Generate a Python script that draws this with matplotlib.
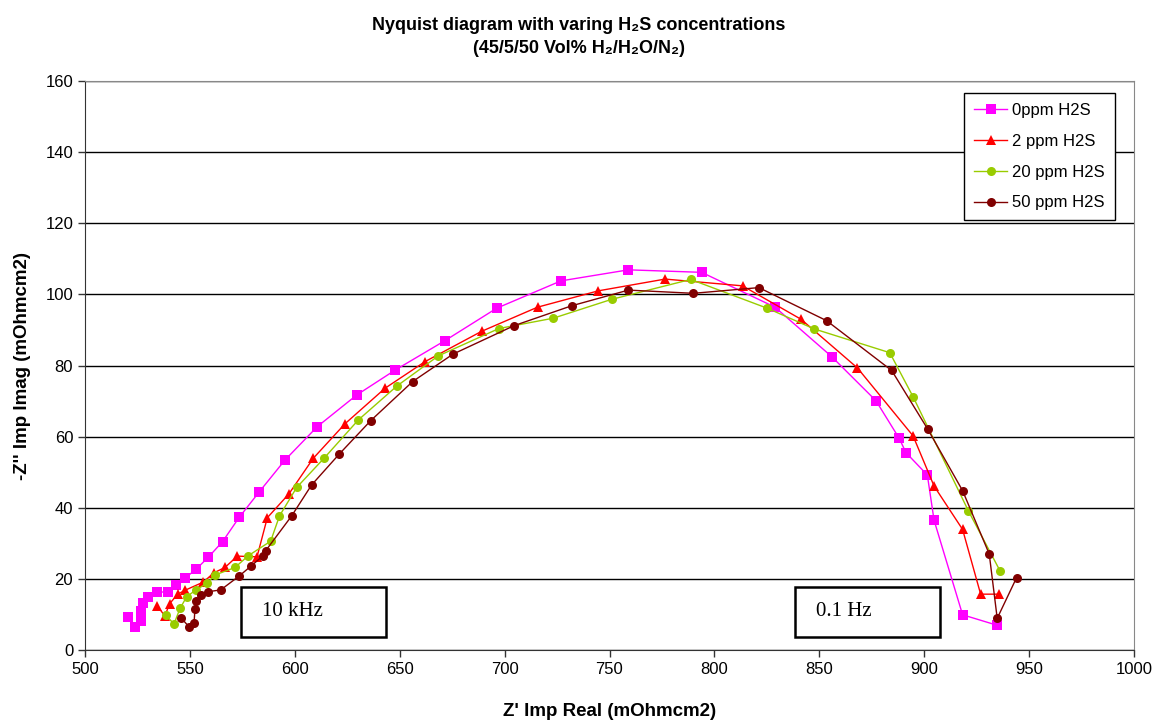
import numpy as np
import matplotlib
matplotlib.use('Agg')
import matplotlib.pyplot as plt

x_0ppm = [520.6, 523.8, 526.5, 526.5, 527.8, 530.2, 534.5, 539.7, 543.4, 547.7,
          552.9, 558.8, 565.6, 573.5, 583.1, 595.3, 610.7, 629.5, 647.8, 671.6,
          696.2, 726.9, 759.0, 793.9, 828.9, 855.9, 877.0, 888.1, 891.3, 901.5,
          904.7, 918.3, 934.5]
y_0ppm = [9.2, 6.6, 8.2, 11.1, 13.1, 15.0, 16.4, 16.2, 18.2, 20.2,
          22.7, 26.1, 30.5, 37.3, 44.5, 53.4, 62.8, 71.7, 78.7, 87.0,
          96.1, 103.8, 106.9, 106.2, 96.4, 82.5, 70.1, 59.5, 55.5, 49.2,
          36.5, 9.9, 7.0]

x_2ppm = [534.2, 538.1, 540.3, 544.2, 547.7, 556.4, 561.4, 566.7, 572.6, 582.0,
          586.9, 597.2, 608.8, 623.9, 643.0, 662.1, 689.0, 715.7, 744.7, 776.5,
          813.4, 841.3, 868.2, 894.7, 904.7, 918.3, 926.9, 935.8]
y_2ppm = [12.5, 9.6, 13.0, 15.7, 16.8, 19.1, 21.7, 23.2, 26.4, 26.2,
          37.2, 43.9, 53.9, 63.6, 73.6, 81.1, 89.6, 96.4, 101.0, 104.3,
          102.4, 93.0, 79.3, 60.2, 46.1, 33.9, 15.7, 15.7]

x_20ppm = [538.6, 542.4, 545.3, 548.5, 552.9, 558.0, 562.0, 571.5, 577.8, 588.5,
           592.7, 600.9, 613.9, 630.3, 648.6, 668.4, 697.3, 723.2, 751.0, 788.7,
           825.2, 847.5, 883.6, 894.8, 921.0, 936.1]
y_20ppm = [9.8, 7.3, 11.7, 15.0, 16.9, 18.7, 21.1, 23.2, 26.5, 30.6,
           37.7, 45.7, 53.9, 64.7, 74.2, 82.7, 90.4, 93.3, 98.6, 104.2,
           96.1, 90.3, 83.6, 71.1, 39.2, 22.3]

x_50ppm = [545.8, 549.8, 552.0, 552.4, 553.0, 555.2, 558.8, 564.7, 573.5, 579.1,
           584.7, 586.1, 598.5, 608.0, 621.2, 636.2, 656.2, 675.4, 704.5, 732.0,
           759.0, 790.0, 821.2, 853.5, 884.5, 901.7, 918.3, 931.0, 934.8, 944.0]
y_50ppm = [9.0, 6.4, 7.7, 11.5, 13.9, 15.5, 16.4, 16.9, 20.8, 23.6,
           26.4, 27.9, 37.7, 46.4, 55.1, 64.5, 75.5, 83.2, 91.2, 96.8,
           101.2, 100.3, 101.9, 92.6, 78.6, 62.1, 44.8, 27.0, 8.9, 20.3]

SERIES = [
    ('0ppm H2S', x_0ppm, y_0ppm, '#FF00FF', 's', 6.5),
    ('2 ppm H2S', x_2ppm, y_2ppm, '#FF0000', '^', 7.5),
    ('20 ppm H2S', x_20ppm, y_20ppm, '#99CC00', 'o', 6.5),
    ('50 ppm H2S', x_50ppm, y_50ppm, '#800000', 'o', 6.5),
]

plt.rcParams['font.family'] = ['Liberation Sans', 'DejaVu Sans']

fig = plt.figure(figsize=(11.58, 7.2), dpi=100)
ax = fig.add_axes([85 / 1158, 1 - 650 / 720, (1134 - 85) / 1158, (650 - 81) / 720])

for label, xs, ys, color, marker, ms in SERIES:
    ax.plot(xs, ys, color=color, marker=marker, markersize=ms, linewidth=1.0,
            markeredgewidth=0, label=label, zorder=3)

ax.set_xlim(500, 1000)
ax.set_ylim(0, 160)
ax.set_xticks(np.arange(500, 1001, 50))
ax.set_yticks(np.arange(0, 161, 20))
ax.tick_params(axis='both', labelsize=12, direction='out', length=5, width=1, color='#333333')
ax.grid(axis='y', color='black', linewidth=1)
ax.set_axisbelow(True)
ax.spines['top'].set_color('#888888')
ax.spines['right'].set_color('#888888')
ax.spines['left'].set_color('#333333')
ax.spines['bottom'].set_color('#333333')

ax.set_xlabel("Z' Imp Real (mOhmcm2)", fontsize=13.5, fontweight='bold', labelpad=19)
ax.set_ylabel("-Z'' Imp Imag (mOhmcm2)", fontsize=13.5, fontweight='bold', labelpad=10)

fig.text(0.5, 0.964, 'Nyquist diagram with varing H\u2082S concentrations',
         ha='center', va='center', fontsize=13, fontweight='bold')
fig.text(0.5, 0.933, '(45/5/50 Vol% H\u2082/H\u2082O/N\u2082)',
         ha='center', va='center', fontsize=13, fontweight='bold')

# Boîtes de fréquence
for x0, txt in [(574.4, '10 kHz'), (838.4, '0.1 Hz')]:
    ax.add_patch(plt.Rectangle((x0, 3.7), 69, 14, facecolor='white', edgecolor='black',
                               linewidth=1.8, zorder=4))
    ax.text(x0 + 10, 10.7, txt, fontsize=15, family=['Liberation Serif', 'DejaVu Serif'],
            va='center', ha='left', zorder=5)

leg = ax.legend(loc='upper right', bbox_to_anchor=(0.982, 0.979), borderaxespad=0,
                fontsize=12, frameon=True, fancybox=False, edgecolor='black', framealpha=1,
                handlelength=2.0, borderpad=0.6, labelspacing=0.95, handletextpad=0.3)
leg.get_frame().set_linewidth(1)

fig.savefig('out.png', dpi=100)
